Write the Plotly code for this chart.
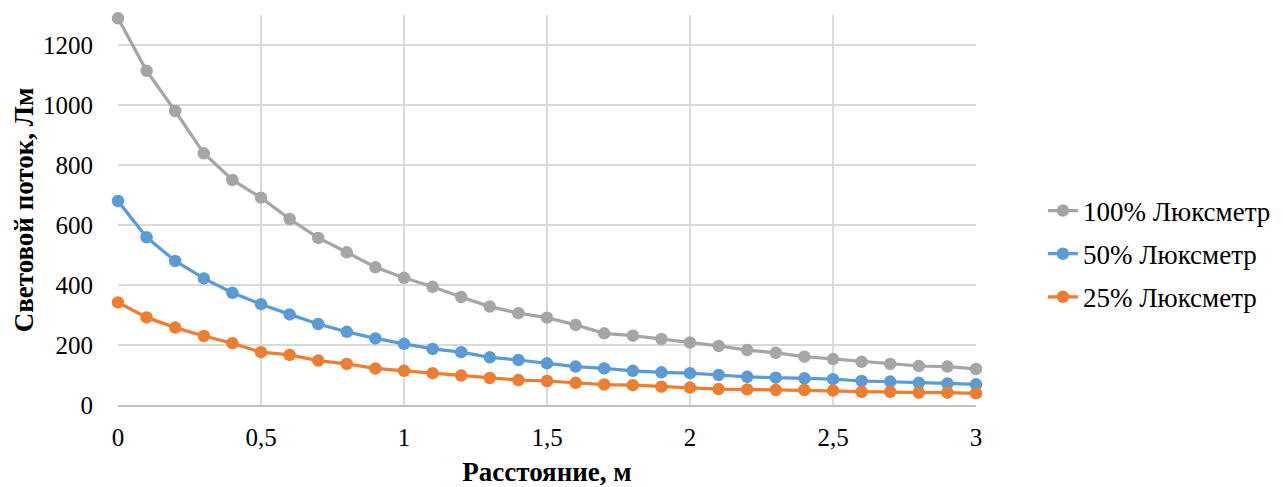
import plotly.graph_objects as go

# Distance from the light source, m
distance = [round(i * 0.1, 1) for i in range(31)]

# Luminous flux readings, lm
flux_100 = [1289, 1114, 980, 839, 750, 691, 620, 557, 509, 459, 424,
            394, 360, 328, 306, 291, 267, 239, 231, 220, 208,
            197, 183, 174, 161, 153, 144, 137, 130, 128, 120]
flux_50 = [680, 559, 480, 422, 374, 336, 302, 270, 244, 222, 204,
           187, 176, 159, 150, 139, 128, 122, 114, 109, 106,
           100, 94, 91, 89, 86, 80, 78, 74, 72, 69]
flux_25 = [342, 292, 258, 230, 206, 176, 167, 148, 137, 122, 114,
           106, 98, 90, 83, 80, 74, 68, 66, 61, 58,
           53, 52, 50, 50, 48, 44, 44, 41, 41, 39]

series_names = ["100% Люксметр", "50% Люксметр", "25% Люксметр"]
series_values = [flux_100, flux_50, flux_25]
series_colors = ["#A5A5A5", "#5B9BD5", "#ED7D31"]

FONT = "'Liberation Serif', 'Times New Roman', serif"
TICK_SIZE = 25
TITLE_SIZE = 27
LEGEND_SIZE = 27

fig = go.Figure()
for i, (name, vals, col) in enumerate(zip(series_names, series_values, series_colors)):
    fig.add_trace(go.Scatter(
        x=distance, y=vals, name=name, mode="lines+markers",
        line=dict(color=col, width=3.25),
        marker=dict(color=col, size=12.5),
        legendgroup=f"g{i}",
        cliponaxis=False,
    ))

fig.update_layout(
    width=1283, height=487,
    margin=dict(l=118, r=307, t=15, b=82, autoexpand=False),
    paper_bgcolor="white", plot_bgcolor="white",
    separators=", ",
    font=dict(family=FONT, size=TICK_SIZE, color="#000000"),
    showlegend=True,
    legend=dict(
        x=1.078, xanchor="left", y=0.387, yanchor="middle",
        font=dict(family=FONT, size=LEGEND_SIZE, color="#000000"),
        tracegroupgap=5,
        bgcolor="rgba(0,0,0,0)",
    ),
)

fig.update_xaxes(
    range=[0, 3], tick0=0, dtick=0.5, automargin=False,
    showgrid=True, gridcolor="#D9D9D9", gridwidth=1.5,
    zeroline=False,
    showline=True, linecolor="#BFBFBF", linewidth=1.5,
    ticks="", ticklabelstandoff=9,
    tickfont=dict(family=FONT, size=TICK_SIZE, color="#000000"),
    title=dict(text="<b>Расстояние, м</b>", font=dict(family=FONT, size=TITLE_SIZE, color="#000000"), standoff=14),
)
fig.update_yaxes(
    range=[0, 1300], tick0=0, dtick=200, automargin=False,
    showgrid=True, gridcolor="#D9D9D9", gridwidth=1.5,
    zeroline=False, showline=False,
    ticks="", ticklabelstandoff=24,
    tickfont=dict(family=FONT, size=TICK_SIZE, color="#000000"),
    title=dict(text="<b>Световой поток, Лм</b>", font=dict(family=FONT, size=TITLE_SIZE, color="#000000"), standoff=1),
)

fig.write_html("out.html")
